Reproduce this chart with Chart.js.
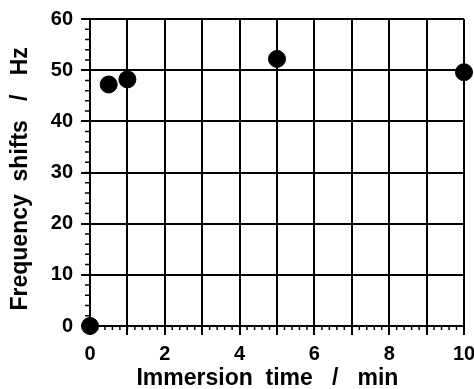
<!DOCTYPE html>
<html>
<head>
<meta charset="utf-8">
<script src="https://cdn.jsdelivr.net/npm/chart.js@4.4.1/dist/chart.umd.min.js"></script>
<style>
  html, body { margin: 0; padding: 0; background: #fff; }
  #wrap { width: 474px; height: 389px; }
</style>
</head>
<body>
<div id="wrap"><canvas id="chart"></canvas></div>
<script>
// immersion time (min) vs frequency shift (Hz)
const times = [0, 0.5, 1, 5, 10];
const shifts = [0, 47.2, 48.2, 52.2, 49.6];
const xRange = [0, 10];
const yRange = [0, 60];
const xMajor = 1, xMinor = 0.2;
const yMajor = 10, yMinor = 2;

const FONT = "'Liberation Sans', Arial, sans-serif";

// small tick marks between the majors, placed with the scales
const minorTicks = {
  id: 'minorTicks',
  beforeDatasetsDraw(chart) {
    const { ctx, scales: { x, y } } = chart;
    ctx.save();
    ctx.strokeStyle = '#000';
    ctx.lineWidth = 1.5;
    ctx.beginPath();
    for (let v = xRange[0]; v <= xRange[1] + 1e-6; v += xMinor) {
      const px = x.getPixelForValue(v);
      ctx.moveTo(px, y.bottom);
      ctx.lineTo(px, y.bottom + 4);
    }
    for (let v = yRange[0]; v <= yRange[1] + 1e-6; v += yMinor) {
      const py = y.getPixelForValue(v);
      ctx.moveTo(x.left, py);
      ctx.lineTo(x.left - 5, py);
    }
    ctx.stroke();
    ctx.restore();
  }
};

const grid = { color: '#000', lineWidth: 2, tickLength: 9, tickWidth: 2, tickColor: '#000' };

new Chart(document.getElementById('chart'), {
  type: 'scatter',
  data: {
    datasets: [{
      data: times.map((t, i) => ({ x: t, y: shifts[i] })),
      backgroundColor: '#000',
      borderColor: '#000',
      pointRadius: 8.5,
      pointHoverRadius: 8.5,
      clip: false
    }]
  },
  options: {
    responsive: true, maintainAspectRatio: false,
    animation: false,
    devicePixelRatio: 1,
    layout: { padding: { top: 19, right: 0, bottom: 0, left: 0 } },
    plugins: { legend: { display: false }, tooltip: { enabled: false } },
    scales: {
      x: {
        type: 'linear', min: xRange[0], max: xRange[1],
        grid: grid,
        border: { color: '#000', width: 2 },
        ticks: {
          stepSize: xMajor, autoSkip: false, maxRotation: 0, padding: 7,
          color: '#000', font: { family: FONT, size: 20, weight: 'bold' },
          callback: v => (v % 2 === 0 ? String(v) : '')
        },
        title: {
          display: true, text: 'Immersion  time   /   min   ', color: '#000',
          font: { family: FONT, size: 23, weight: 'bold' }, padding: { top: 0, bottom: -3 }
        },
        afterFit: s => { s.height = 63; s.paddingLeft = 0; s.paddingRight = 10; }
      },
      y: {
        type: 'linear', min: yRange[0], max: yRange[1],
        grid: grid,
        border: { color: '#000', width: 2 },
        ticks: {
          stepSize: yMajor, padding: 8,
          color: '#000', font: { family: FONT, size: 20, weight: 'bold' }
        },
        title: {
          display: true, text: 'Frequency  shifts   /   Hz  ', color: '#000',
          font: { family: FONT, size: 23, weight: 'bold' }, padding: { top: 7, bottom: 0 }
        },
        afterFit: s => { s.width = 90; s.paddingTop = 0; s.paddingBottom = 0; }
      }
    }
  },
  plugins: [minorTicks]
});
</script>
</body>
</html>
